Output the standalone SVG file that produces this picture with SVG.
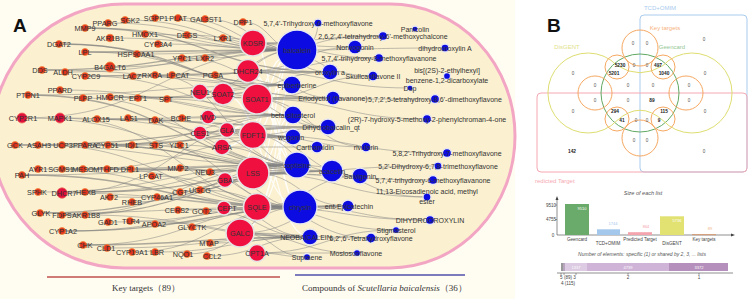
<svg xmlns="http://www.w3.org/2000/svg" width="750" height="299" viewBox="0 0 750 299">
<style>
.e{fill:none;stroke:#868686;stroke-width:.7;opacity:.75}
.et{fill:none;stroke:#777;stroke-width:1.3;opacity:.6}
.ew{fill:none;stroke:#fff;stroke-width:1.3;opacity:.85}
.rs{fill:#e2321c;stroke:#f28a3c;stroke-width:.8}
.rm{fill:#e0103c;stroke:#ee6a5a;stroke-width:.8}
.rb{fill:#f01040;stroke:#e4e4e4;stroke-width:1.6}
.bl{fill:#0c0ce2;stroke:#e8e8f0;stroke-width:1.3}
.lr{font-family:'Liberation Sans',Arial,sans-serif;font-size:7.3px;fill:#333;text-anchor:middle}
.lb{font-family:'Liberation Sans',Arial,sans-serif;font-size:7px;fill:#333;text-anchor:middle}
.vn{font-family:'Liberation Sans',Arial,sans-serif;font-size:4.6px;fill:#555;text-anchor:middle}
.vb{font-family:'Liberation Sans',Arial,sans-serif;font-size:4.8px;fill:#222;font-weight:bold;text-anchor:middle}
.sm{font-family:'Liberation Sans',Arial,sans-serif;font-size:4.6px;fill:#444;text-anchor:middle}
.leg{font-family:'Liberation Serif','Times New Roman',serif;font-size:9px;fill:#333}
</style>
<rect x="0" y="0" width="750" height="299" fill="#fff"/>
<rect x="0" y="0" width="515" height="299" fill="#fffcf2"/>
<path d="M124,4 H390 A125,132 0 0 1 390,268 H124 A132,132 0 0 1 124,4 Z" fill="#fbf0cf" stroke="#f3a6c4" stroke-width="3"/>
<text x="13" y="32" font-family="'Liberation Sans',Arial,sans-serif" font-size="19" font-weight="bold" fill="#111">A</text>

<g id="connectors">
<path class="ew" d="M257,99C280,99 280,165 297,165 M257,99C280,99 280,207 300,207 M253,173C275,173 275,50 297,50 M253,135C275,135 275,50 297,50 M253,43C275,43 275,207 300,207 M248,71C272,71 272,165 297,165 M257,207C277,207 277,85 292,85 M253,173C275,173 275,115 293,115 M240,233C270,233 270,137 293,137 M223,94C260,94 260,207 300,207 M227,130C262,130 262,50 297,50 M253,135C277,135 277,237 310,237 M257,207C280,207 280,115 293,115 M248,71C272,71 272,137 293,137 M222,147C260,147 260,85 292,85 M225,180C262,180 262,50 297,50"/>
<path class="e" d="M85,28C191,28 191,50 297,50 M108,23C203,23 203,50 297,50 M125,20C211,20 211,50 297,50 M155,18C226,18 226,50 297,50 M178,18C237,18 237,50 297,50 M205,19C251,19 251,50 297,50 M243,22C270,22 270,50 297,50 M110,38C203,38 203,50 297,50 M145,34C221,34 221,50 297,50 M187,35C242,35 242,50 297,50 M223,38C260,38 260,50 297,50 M59,44C175,44 175,85 292,85 M158,44C227,44 227,50 297,50 M85,52C188,52 188,85 292,85 M137,54C217,54 217,50 297,50 M182,58C237,58 237,85 292,85 M205,58C251,58 251,50 297,50 M42,70C167,70 167,85 292,85 M65,72C181,72 181,50 297,50 M85,76C189,76 189,115 293,115 M110,67C203,67 203,50 297,50 M133,76C212,76 212,85 292,85 M155,75C226,75 226,165 297,165 M172,75C232,75 232,85 292,85 M215,75C256,75 256,50 297,50"/>
<path class="e" d="M60,90C176,90 176,115 293,115 M28,95C160,95 160,85 292,85 M83,98C190,98 190,165 297,165 M110,97C201,97 201,115 293,115 M138,98C215,98 215,85 292,85 M167,99C230,99 230,115 293,115 M22,118C160,118 160,165 297,165 M22,118C160,118 160,50 297,50 M60,118C176,118 176,137 293,137 M60,118C180,118 180,207 300,207 M97,119C195,119 195,115 293,115 M128,118C212,118 212,165 297,165 M155,120C224,120 224,137 293,137 M182,118C237,118 237,115 293,115 M15,145C156,145 156,165 297,165 M38,145C169,145 169,207 300,207 M62,145C177,145 177,137 293,137 M85,145C191,145 191,165 297,165 M108,145C200,145 200,115 293,115 M132,145C214,145 214,165 297,165 M155,145C227,145 227,207 300,207 M180,145C238,145 238,165 297,165"/>
<path class="e" d="M180,168C240,168 240,207 300,207 M210,172C253,172 253,165 297,165 M22,175C160,175 160,165 297,165 M38,169C169,169 169,207 300,207 M62,169C180,169 180,165 297,165 M83,169C188,169 188,137 293,137 M107,169C204,169 204,207 300,207 M131,169C214,169 214,165 297,165 M152,176C226,176 226,207 300,207 M38,192C168,192 168,165 297,165 M62,193C181,193 181,207 300,207 M62,193C178,193 178,115 293,115 M85,192C191,192 191,165 297,165 M110,197C205,197 205,207 300,207 M132,202C215,202 215,165 297,165 M157,197C229,197 229,207 300,207 M180,192C239,192 239,165 297,165 M200,190C250,190 250,207 300,207"/>
<path class="e" d="M40,213C170,213 170,207 300,207 M62,215C180,215 180,165 297,165 M85,215C198,215 198,237 310,237 M178,210C239,210 239,207 300,207 M208,211C259,211 259,237 310,237 M108,222C204,222 204,207 300,207 M130,221C220,221 220,237 310,237 M155,224C228,224 228,207 300,207 M192,227C246,227 246,207 300,207 M62,231C181,231 181,207 300,207 M210,243C260,243 260,237 310,237 M83,245C192,245 192,207 300,207 M107,248C209,248 209,237 310,237 M132,252C216,252 216,207 300,207 M155,252C233,252 233,237 310,237 M187,254C244,254 244,207 300,207 M207,256C259,256 259,237 310,237"/>
<path class="et" d="M85,28C208,28 208,72 330,72 M59,44C196,44 196,98 333,98 M28,95C180,95 180,171 332,171 M85,76C208,76 208,72 330,72 M110,97C222,97 222,98 333,98 M85,145C208,145 208,171 332,171 M108,145C218,145 218,127 328,127 M62,169C197,169 197,171 332,171 M15,145C171,145 171,127 328,127 M62,215C197,215 197,171 332,171 M62,231C205,231 205,206 348,206 M85,192C208,192 208,171 332,171 M85,52C191,52 191,50 297,50 M97,119C212,119 212,127 328,127 M22,175C161,175 161,207 300,207 M40,213C186,213 186,171 332,171 M83,245C196,245 196,237 310,237 M42,70C170,70 170,50 297,50"/>
<path class="e" d="M253,43C304,43 304,47 355,47 M253,43C292,43 292,72 330,72 M253,43C318,43 318,36 383,36 M253,43C316,43 316,58 379,58 M253,43C313,43 313,76 373,76 M248,71C289,71 289,72 330,72 M248,71C290,71 290,98 333,98 M248,71C313,71 313,58 379,58 M248,71C329,71 329,88 410,88 M248,71C301,71 301,47 355,47 M257,99C295,99 295,98 333,98 M257,99C292,99 292,127 328,127 M257,99C342,99 342,119 427,119 M257,99C346,99 346,99 435,99 M257,99C315,99 315,76 373,76 M257,99C311,99 311,147 366,147 M223,94C257,94 257,85 292,85 M223,94C276,94 276,72 330,72 M223,94C275,94 275,127 328,127"/>
<path class="e" d="M253,135C290,135 290,127 328,127 M253,135C292,135 292,171 332,171 M253,135C309,135 309,147 366,147 M253,135C350,135 350,153 447,153 M253,135C306,135 306,176 360,176 M253,173C292,173 292,171 332,171 M253,173C306,173 306,176 360,176 M253,173C343,173 343,180 433,180 M253,173C345,173 345,166 438,166 M253,173C300,173 300,206 348,206 M253,173C340,173 340,197 427,197 M257,207C302,207 302,206 348,206 M257,207C343,207 343,220 430,220 M257,207C326,207 326,230 396,230 M257,207C314,207 314,238 371,238 M257,207C308,207 308,176 360,176 M240,233C275,233 275,237 310,237 M240,233C298,233 298,253 357,253 M240,233C273,233 273,257 307,257 M240,233C305,233 305,238 371,238 M240,233C294,233 294,206 348,206 M257,253C282,253 282,257 307,257 M257,253C307,253 307,253 357,253 M257,253C326,253 326,230 396,230"/>
<path class="e" d="M200,92C248,92 248,50 297,50 M200,92C246,92 246,85 292,85 M208,117C250,117 250,115 293,115 M208,117C250,117 250,137 293,137 M227,130C262,130 262,165 297,165 M227,130C260,130 260,137 293,137 M200,133C248,133 248,165 297,165 M222,147C260,147 260,165 297,165 M222,147C270,147 270,147 317,147 M225,180C262,180 262,207 300,207 M225,180C261,180 261,165 297,165 M223,208C262,208 262,207 300,207 M223,208C266,208 266,237 310,237 M297,50C318,50 318,23 318,23 M297,50C310,50 310,36 383,36 M297,165C360,165 360,197 427,197 M300,207C360,207 360,220 430,220 M297,50C360,50 360,48 445,48"/>
</g>

<g id="n-MMP9"><circle class="rs" cx="85" cy="28" r="3.5"/><text class="lr" x="85" y="30.7">MMP9</text></g>
<g id="n-PPARG"><circle class="rs" cx="108" cy="23" r="3.5"/><text class="lr" x="105" y="25.7">PPARG</text></g>
<g id="n-SGK2"><circle class="rs" cx="125" cy="20" r="3.5"/><text class="lr" x="130" y="22.7">SGK2</text></g>
<g id="n-SGPP1"><circle class="rs" cx="155" cy="18" r="3.5"/><text class="lr" x="156" y="20.7">SGPP1</text></g>
<g id="n-PLAT"><circle class="rs" cx="178" cy="18" r="3.5"/><text class="lr" x="178" y="20.7">PLAT</text></g>
<g id="n-GAL3ST1"><circle class="rs" cx="205" cy="19" r="3.5"/><text class="lr" x="206" y="21.7">GAL3ST1</text></g>
<g id="n-DPP1"><circle class="rs" cx="243" cy="22" r="3.5"/><text class="lr" x="243" y="24.7">DPP1</text></g>
<g id="n-AKR1B1"><circle class="rs" cx="110" cy="38" r="3.8"/><text class="lr" x="110" y="40.7">AKR1B1</text></g>
<g id="n-HMOX1"><circle class="rs" cx="145" cy="34" r="3.5"/><text class="lr" x="145" y="36.7">HMOX1</text></g>
<g id="n-DEGS"><circle class="rs" cx="187" cy="35" r="3.5"/><text class="lr" x="187" y="37.7">DEGS</text></g>
<g id="n-LXR1"><circle class="rs" cx="223" cy="38" r="3.5"/><text class="lr" x="223" y="40.7">LXR1</text></g>
<g id="n-DGAT2"><circle class="rs" cx="59" cy="44" r="3.5"/><text class="lr" x="59" y="46.7">DGAT2</text></g>
<g id="n-CYP3A4"><circle class="rs" cx="158" cy="44" r="3.5"/><text class="lr" x="158" y="46.7">CYP3A4</text></g>
<g id="n-LPL"><circle class="rs" cx="85" cy="52" r="3.5"/><text class="lr" x="85" y="54.7">LPL</text></g>
<g id="n-HSP90AA1"><circle class="rs" cx="137" cy="54" r="3.5"/><text class="lr" x="136" y="56.7">HSP90AA1</text></g>
<g id="n-YPC1"><circle class="rs" cx="182" cy="58" r="3.5"/><text class="lr" x="182" y="60.7">YPC1</text></g>
<g id="n-LXR2"><circle class="rs" cx="205" cy="58" r="3.5"/><text class="lr" x="205" y="60.7">LXR2</text></g>
<g id="n-DDS"><circle class="rs" cx="42" cy="70" r="3.5"/><text class="lr" x="40" y="72.7">DDS</text></g>
<g id="n-ALDH"><circle class="rs" cx="65" cy="72" r="3.5"/><text class="lr" x="63" y="74.7">ALDH</text></g>
<g id="n-CYP2C9"><circle class="rs" cx="85" cy="76" r="3.5"/><text class="lr" x="86" y="78.7">CYP2C9</text></g>
<g id="n-B4GALT6"><circle class="rs" cx="110" cy="67" r="5"/><text class="lr" x="110" y="69.7">B4GALT6</text></g>
<g id="n-LACZ"><circle class="rs" cx="133" cy="76" r="3.5"/><text class="lr" x="132" y="78.7">LACZ</text></g>
<g id="n-RXRA"><circle class="rs" cx="155" cy="75" r="3.5"/><text class="lr" x="152" y="77.7">RXRA</text></g>
<g id="n-LPCAT"><circle class="rs" cx="172" cy="75" r="3.5"/><text class="lr" x="178" y="77.7">LPCAT</text></g>
<g id="n-PGSA"><circle class="rs" cx="215" cy="75" r="3.5"/><text class="lr" x="213" y="77.7">PGSA</text></g>
<g id="n-PPARD"><circle class="rs" cx="60" cy="90" r="3.5"/><text class="lr" x="60" y="92.7">PPARD</text></g>
<g id="n-PTPN1"><circle class="rs" cx="28" cy="95" r="3.5"/><text class="lr" x="28" y="97.7">PTPN1</text></g>
<g id="n-PLPP"><circle class="rs" cx="83" cy="98" r="3.5"/><text class="lr" x="83" y="100.7">PLPP</text></g>
<g id="n-HMGCR"><circle class="rs" cx="110" cy="97" r="3.5"/><text class="lr" x="110" y="99.7">HMGCR</text></g>
<g id="n-EPT1"><circle class="rs" cx="138" cy="98" r="3.5"/><text class="lr" x="138" y="100.7">EPT1</text></g>
<g id="n-SPT"><circle class="rs" cx="167" cy="99" r="3.5"/><text class="lr" x="166" y="101.7">SPT</text></g>
<g id="n-CYP2R1"><circle class="rm" cx="22" cy="118" r="5"/><text class="lr" x="23" y="120.7">CYP2R1</text></g>
<g id="n-MAPK1"><circle class="rm" cx="60" cy="118" r="5"/><text class="lr" x="60" y="120.7">MAPK1</text></g>
<g id="n-ALOX15"><circle class="rs" cx="97" cy="119" r="3.5"/><text class="lr" x="96" y="121.7">ALOX15</text></g>
<g id="n-LAS1"><circle class="rs" cx="128" cy="118" r="3.5"/><text class="lr" x="129" y="120.7">LAS1</text></g>
<g id="n-DAK"><circle class="rs" cx="155" cy="120" r="3.5"/><text class="lr" x="156" y="122.7">DAK</text></g>
<g id="n-BCHE"><circle class="rs" cx="182" cy="118" r="3.5"/><text class="lr" x="181" y="120.7">BCHE</text></g>
<g id="n-GCK"><circle class="rs" cx="15" cy="145" r="3.5"/><text class="lr" x="15" y="147.7">GCK</text></g>
<g id="n-ASAH3"><circle class="rs" cx="38" cy="145" r="3.5"/><text class="lr" x="39" y="147.7">ASAH3</text></g>
<g id="n-UCP3"><circle class="rs" cx="62" cy="145" r="3.5"/><text class="lr" x="63" y="147.7">UCP3</text></g>
<g id="n-PPARA"><circle class="rs" cx="85" cy="145" r="3.5"/><text class="lr" x="85" y="147.7">PPARA</text></g>
<g id="n-CYP51"><circle class="rs" cx="108" cy="145" r="3.5"/><text class="lr" x="107" y="147.7">CYP51</text></g>
<g id="n-IDI1"><circle class="rs" cx="132" cy="145" r="3.5"/><text class="lr" x="132" y="147.7">IDI1</text></g>
<g id="n-STS"><circle class="rs" cx="155" cy="145" r="3.5"/><text class="lr" x="156" y="147.7">STS</text></g>
<g id="n-YDC1"><circle class="rs" cx="180" cy="145" r="3.5"/><text class="lr" x="179" y="147.7">YDC1</text></g>
<g id="n-MMP2"><circle class="rs" cx="180" cy="168" r="3.5"/><text class="lr" x="178" y="170.7">MMP2</text></g>
<g id="n-NEU3"><circle class="rs" cx="210" cy="172" r="3.5"/><text class="lr" x="205" y="174.7">NEU3</text></g>
<g id="n-PAH"><circle class="rs" cx="22" cy="175" r="3.5"/><text class="lr" x="22" y="177.7">PAH</text></g>
<g id="n-AYR1"><circle class="rs" cx="38" cy="169" r="3.5"/><text class="lr" x="38" y="171.7">AYR1</text></g>
<g id="n-SGMS1"><circle class="rs" cx="62" cy="169" r="3.5"/><text class="lr" x="61" y="171.7">SGMS1</text></g>
<g id="n-MESO"><circle class="rs" cx="83" cy="169" r="3.5"/><text class="lr" x="83" y="171.7">MESO</text></g>
<g id="n-MTHFD"><circle class="rs" cx="107" cy="169" r="3.5"/><text class="lr" x="106" y="171.7">MTHFD</text></g>
<g id="n-DPL1"><circle class="rs" cx="131" cy="169" r="3.5"/><text class="lr" x="130" y="171.7">DPL1</text></g>
<g id="n-LPGAT"><circle class="rs" cx="152" cy="176" r="3.5"/><text class="lr" x="151" y="178.7">LPGAT</text></g>
<g id="n-SPHK"><circle class="rs" cx="38" cy="192" r="3.5"/><text class="lr" x="37" y="194.7">SPHK</text></g>
<g id="n-DHCR7"><circle class="rm" cx="62" cy="193" r="5.2"/><text class="lr" x="64" y="195.7">DHCR7</text></g>
<g id="n-HEXB"><circle class="rs" cx="85" cy="192" r="3.5"/><text class="lr" x="86" y="194.7">HEXB</text></g>
<g id="n-AKT2"><circle class="rs" cx="110" cy="197" r="3.5"/><text class="lr" x="109" y="199.7">AKT2</text></g>
<g id="n-RHEB"><circle class="rs" cx="132" cy="202" r="3.5"/><text class="lr" x="132" y="204.7">RHEB</text></g>
<g id="n-CYP46A1"><circle class="rs" cx="157" cy="197" r="3.5"/><text class="lr" x="157" y="199.7">CYP46A1</text></g>
<g id="n-CGT"><circle class="rs" cx="180" cy="192" r="3.5"/><text class="lr" x="180" y="194.7">CGT</text></g>
<g id="n-UGCG"><circle class="rs" cx="200" cy="190" r="3.5"/><text class="lr" x="200" y="192.7">UGCG</text></g>
<g id="n-GLYK"><circle class="rs" cx="40" cy="213" r="3.5"/><text class="lr" x="41" y="215.7">GLYK</text></g>
<g id="n-FDPS"><circle class="rs" cx="62" cy="215" r="3.5"/><text class="lr" x="62" y="217.7">FDPS</text></g>
<g id="n-AKR1B8"><circle class="rs" cx="85" cy="215" r="3.5"/><text class="lr" x="86" y="217.7">AKR1B8</text></g>
<g id="n-CERS2"><circle class="rs" cx="178" cy="210" r="3.5"/><text class="lr" x="177" y="212.7">CERS2</text></g>
<g id="n-GOT2"><circle class="rs" cx="206" cy="211" r="3.5"/><text class="lr" x="202" y="213.7">GOT2</text></g>
<g id="n-GAD1"><circle class="rs" cx="108" cy="222" r="3.5"/><text class="lr" x="108" y="224.7">GAD1</text></g>
<g id="n-TLR4"><circle class="rs" cx="130" cy="221" r="3.5"/><text class="lr" x="131" y="223.7">TLR4</text></g>
<g id="n-APOA2"><circle class="rs" cx="155" cy="224" r="3.5"/><text class="lr" x="154" y="226.7">APOA2</text></g>
<g id="n-GLYCTK"><circle class="rs" cx="192" cy="227" r="3.5"/><text class="lr" x="192" y="229.7">GLYCTK</text></g>
<g id="n-CYP1A2"><circle class="rs" cx="62" cy="231" r="3.5"/><text class="lr" x="63" y="233.7">CYP1A2</text></g>
<g id="n-MTAP"><circle class="rs" cx="210" cy="243" r="3.5"/><text class="lr" x="209" y="245.7">MTAP</text></g>
<g id="n-CHK"><circle class="rs" cx="83" cy="245" r="3.5"/><text class="lr" x="85" y="247.7">CHK</text></g>
<g id="n-CLD1"><circle class="rs" cx="107" cy="248" r="3.5"/><text class="lr" x="106" y="250.7">CLD1</text></g>
<g id="n-CYP19A1"><circle class="rs" cx="132" cy="252" r="3.5"/><text class="lr" x="132" y="254.7">CYP19A1</text></g>
<g id="n-LBR"><circle class="rs" cx="155" cy="252" r="3.5"/><text class="lr" x="157" y="254.7">LBR</text></g>
<g id="n-NQO1"><circle class="rs" cx="187" cy="254" r="3.5"/><text class="lr" x="183" y="256.7">NQO1</text></g>
<g id="n-CCL2"><circle class="rs" cx="207" cy="256" r="3.5"/><text class="lr" x="212" y="258.7">CCL2</text></g>

<g id="n-KDSR"><circle class="rb" cx="253" cy="43" r="13"/><text class="lr" x="253" y="45.7">KDSR</text></g>
<g id="n-DHCR24"><circle class="rb" cx="248" cy="71" r="11.5"/><text class="lr" x="248" y="73.7">DHCR24</text></g>
<g id="n-NEU1"><circle class="rb" cx="200" cy="92" r="8"/><text class="lr" x="200" y="94.7">NEU1</text></g>
<g id="n-SOAT2"><circle class="rb" cx="223" cy="94" r="11"/><text class="lr" x="223" y="96.7">SOAT2</text></g>
<g id="n-SOAT1"><circle class="rb" cx="257" cy="99" r="15"/><text class="lr" x="257" y="101.7">SOAT1</text></g>
<g id="n-MVD"><circle class="rb" cx="208" cy="117" r="7"/><text class="lr" x="208" y="119.7">MVD</text></g>
<g id="n-CES1"><circle class="rb" cx="200" cy="133" r="7"/><text class="lr" x="200" y="135.7">CES1</text></g>
<g id="n-GLA"><circle class="rb" cx="227" cy="130" r="7.5"/><text class="lr" x="227" y="132.7">GLA</text></g>
<g id="n-FDFT1"><circle class="rb" cx="253" cy="135" r="13.5"/><text class="lr" x="253" y="137.7">FDFT1</text></g>
<g id="n-ARSA"><circle class="rb" cx="222" cy="147" r="8"/><text class="lr" x="222" y="149.7">ARSA</text></g>
<g id="n-LSS"><circle class="rb" cx="253" cy="173" r="16"/><text class="lr" x="253" y="175.7">LSS</text></g>
<g id="n-GBA"><circle class="rb" cx="225" cy="180" r="7.5"/><text class="lr" x="225" y="182.7">GBA</text></g>
<g id="n-SQLE"><circle class="rb" cx="257" cy="207" r="13.5"/><text class="lr" x="257" y="209.7">SQLE</text></g>
<g id="n-CEPT"><circle class="rb" cx="224" cy="208" r="7"/><text class="lr" x="227" y="210.7">CEPT</text></g>
<g id="n-GALC"><circle class="rb" cx="240" cy="233" r="14"/><text class="lr" x="240" y="235.7">GALC</text></g>
<g id="n-CPT1A"><circle class="rb" cx="257" cy="253" r="8.5"/><text class="lr" x="257" y="255.7">CPT1A</text></g>

<g id="c-baicalein"><circle class="bl" cx="297" cy="50" r="20"/><text class="lb" x="297" y="52.5">baicalein</text></g>
<g id="c-1"><circle class="bl" cx="318" cy="23" r="4"/><text class="lb" x="318" y="25.5">5,7,4'-Trihydroxy-6-methoxyflavone</text></g>
<g id="c-2"><circle class="bl" cx="383" cy="36" r="4.5"/><text class="lb" x="383" y="38.5">2,6,2',4'-tetrahydroxy-6'-methoxychalcone</text></g>
<g id="c-panicolin"><circle class="bl" cx="415" cy="29" r="3"/><text class="lb" x="415" y="31.5">Panicolin</text></g>
<g id="c-norwogonin"><circle class="bl" cx="355" cy="47" r="7"/><text class="lb" x="355" y="49.5">Norwogonin</text></g>
<g id="c-dihydrooroxylinA"><circle class="bl" cx="445" cy="48" r="4"/><text class="lb" x="445" y="50.5">dihydrooroxylin A</text></g>
<g id="c-3"><circle class="bl" cx="379" cy="58" r="4.5"/><text class="lb" x="379" y="60.5">5,7,4'-trihydroxy-8-methoxyflavanone</text></g>
<g id="c-oroxylina"><circle class="bl" cx="330" cy="72" r="8"/><text class="lb" x="330" y="74.5">oroxylin a</text></g>
<g id="c-skullcap"><circle class="bl" cx="373" cy="76" r="5"/><text class="lb" x="373" y="78.5">Skullcapflavone II</text></g>
<g id="c-bis"><circle class="bl" cx="447" cy="76" r="3.5"/><text class="lb" x="447" y="73">bis[(2S)-2-ethylhexyl]</text><text class="lb" x="447" y="83">benzene-1,2-dicarboxylate</text></g>
<g id="c-epiberberine"><circle class="bl" cx="292" cy="85" r="9"/><text class="lb" x="297" y="87.5">epiberberine</text></g>
<g id="c-dop"><circle class="bl" cx="410" cy="88" r="3"/><text class="lb" x="410" y="90.5">Dop</text></g>
<g id="c-eriodyctiol"><circle class="bl" cx="333" cy="98" r="7"/><text class="lb" x="333" y="100.5">Eriodyctiol (flavanone)</text></g>
<g id="c-4"><circle class="bl" cx="435" cy="99" r="4.5"/><text class="lb" x="435" y="101.5">5,7,2',5-tetrahydroxy-8,6'-dimethoxyflavone</text></g>
<g id="c-sitosterol"><circle class="bl" cx="293" cy="115" r="9"/><text class="lb" x="293" y="117.5">beta-sitosterol</text></g>
<g id="c-5"><circle class="bl" cx="427" cy="119" r="4.5"/><text class="lb" x="427" y="121.5">(2R)-7-hydroxy-5-methoxy-2-phenylchroman-4-one</text></g>
<g id="c-dihydrobaicalin"><circle class="bl" cx="328" cy="127" r="8"/><text class="lb" x="331" y="129.5">Dihydrobaicalin_qt</text></g>
<g id="c-wogonin"><circle class="bl" cx="293" cy="137" r="8"/><text class="lb" x="291" y="139.5">wogonin</text></g>
<g id="c-carthamidin"><circle class="bl" cx="317" cy="147" r="6"/><text class="lb" x="315" y="149.5">Carthamidin</text></g>
<g id="c-rivularin"><circle class="bl" cx="366" cy="147" r="5"/><text class="lb" x="366" y="149.5">rivularin</text></g>
<g id="c-6"><circle class="bl" cx="447" cy="153" r="4.5"/><text class="lb" x="447" y="155.5">5,8,2'-Trihydroxy-7-methoxyflavone</text></g>
<g id="c-coptisine"><circle class="bl" cx="297" cy="165" r="13"/><text class="lb" x="297" y="167.5">coptisine</text></g>
<g id="c-7"><circle class="bl" cx="438" cy="166" r="4"/><text class="lb" x="438" y="168.5">5,2'-Dihydroxy-6,7,8-trimethoxyflavone</text></g>
<g id="c-acacetin"><circle class="bl" cx="332" cy="171" r="11"/><text class="lb" x="332" y="173.5">acacetin</text></g>
<g id="c-salvigenin"><circle class="bl" cx="360" cy="176" r="8"/><text class="lb" x="360" y="178.5">Salvigenin</text></g>
<g id="c-8"><circle class="bl" cx="433" cy="180" r="4.5"/><text class="lb" x="433" y="182.5">5,7,4'-trihydroxy-6-methoxyflavanone</text></g>
<g id="c-eicosa"><circle class="bl" cx="427" cy="197" r="4"/><text class="lb" x="427" y="194">11,13-Eicosadienoic acid, methyl</text><text class="lb" x="427" y="204">ester</text></g>
<g id="c-chrysin"><circle class="bl" cx="300" cy="207" r="17"/><text class="lb" x="300" y="209.5">chrysin</text></g>
<g id="c-epicatechin"><circle class="bl" cx="348" cy="206" r="6"/><text class="lb" x="349" y="208.5">ent-Epicatechin</text></g>
<g id="c-dihydrooroxylin"><circle class="bl" cx="430" cy="220" r="4.5"/><text class="lb" x="430" y="222.5">DIHYDROOROXYLIN</text></g>
<g id="c-stigmasterol"><circle class="bl" cx="396" cy="230" r="3.5"/><text class="lb" x="396" y="232.5">Stigmasterol</text></g>
<g id="c-neobaicalein"><circle class="bl" cx="310" cy="237" r="8"/><text class="lb" x="306" y="239.5">NEOBAICALEIN</text></g>
<g id="c-9"><circle class="bl" cx="371" cy="238" r="5"/><text class="lb" x="371" y="240.5">5,2',6'-Tetrahydroxyflavone</text></g>
<g id="c-moslosooflavone"><circle class="bl" cx="357" cy="253" r="3.5"/><text class="lb" x="356" y="255.5">Moslosooflavone</text></g>
<g id="c-supraene"><circle class="bl" cx="307" cy="257" r="3.5"/><text class="lb" x="307" y="259.5">Supraene</text></g>

<g id="legend">
<line x1="47" y1="277" x2="280" y2="277" stroke="#c0504d" stroke-width="1.3"/>
<line x1="295" y1="275" x2="465" y2="275" stroke="#5050a8" stroke-width="1.3"/>
<text class="leg" x="112" y="291">Key targets（89）</text>
<text class="leg" x="302" y="291">Compounds of <tspan font-style="italic">Scutellaria baicalensis</tspan>（36）</text>
</g>

<text x="547" y="32" font-family="'Liberation Sans',Arial,sans-serif" font-size="19" font-weight="bold" fill="#111">B</text>

<g id="venn" fill="none" stroke-width="1">
<rect x="640" y="15" width="107" height="157" rx="4" stroke="#a9cbee"/>
<rect x="537" y="93" width="210" height="79" rx="4" stroke="#f4a8b2"/>
<circle cx="640" cy="93" r="39" stroke="#62a862"/>
<path d="M617,65.5 A40,40 0 1 0 617,120.5 Q640,100 663,120.5 A40,40 0 1 0 663,65.5 Q640,80 617,65.5 Z" stroke="#dede72"/>
<g stroke="#f6a862">
<circle cx="640" cy="48" r="18"/><circle cx="640" cy="138" r="18"/>
<circle cx="595" cy="93" r="17"/><circle cx="686" cy="93" r="17"/>
<circle cx="617" cy="67" r="12"/><circle cx="663" cy="67" r="12"/>
<circle cx="617" cy="119" r="12"/><circle cx="663" cy="119" r="12"/>
</g>
</g>
<g id="venn-labels" font-family="'Liberation Sans',Arial,sans-serif" font-size="6">
<text x="660" y="10" fill="#a9cbee" text-anchor="middle">TCD+OMIM</text>
<text x="665" y="30" fill="#f6b27c" text-anchor="middle">Key targets</text>
<text x="672" y="49" fill="#94c894" text-anchor="middle">Geencard</text>
<text x="567" y="49" fill="#e2e288" text-anchor="middle">DisGENT</text>
<text x="535" y="183" fill="#f5aab4">redicted Target</text>
</g>
<g id="venn-numbers">
<text class="vn" x="633" y="44.5">0</text><text class="vn" x="647" y="44.5">0</text>
<text class="vn" x="704" y="40.5">0</text>
<text class="vb" x="620" y="66.5">5230</text><text class="vn" x="634" y="66.5">0</text><text class="vn" x="647" y="66.5">0</text><text class="vb" x="658" y="66.5">497</text>
<text class="vb" x="614" y="74.5">5201</text><text class="vb" x="664" y="74.5">1040</text>
<text class="vn" x="573" y="74.5">0</text><text class="vn" x="705" y="74.5">0</text>
<text class="vn" x="595" y="86.5">0</text><text class="vn" x="628" y="86.5">0</text><text class="vn" x="653" y="86.5">0</text><text class="vn" x="689" y="86.5">0</text>
<text class="vn" x="595" y="101.5">0</text><text class="vn" x="628" y="101.5">0</text><text class="vb" x="652" y="101.5">89</text><text class="vn" x="689" y="101.5">0</text>
<text class="vn" x="573" y="112.5">0</text><text class="vn" x="705" y="112.5">0</text>
<text class="vb" x="615" y="112.5">294</text><text class="vb" x="664" y="112.5">115</text>
<text class="vb" x="622" y="121.5">41</text><text class="vn" x="636" y="121.5">0</text><text class="vn" x="647" y="121.5">0</text><text class="vb" x="659" y="121.5">9</text>
<text class="vn" x="634" y="141.5">0</text><text class="vn" x="647" y="141.5">0</text>
<text class="vb" x="572" y="152.5">142</text><text class="vn" x="704" y="152.5">0</text>
</g>

<g id="bar-chart">
<text x="643" y="195" font-family="'Liberation Sans',Arial,sans-serif" font-size="5.5" font-style="italic" fill="#555" text-anchor="middle">Size of each list</text>
<line x1="557" y1="235" x2="557" y2="198" stroke="#444" stroke-width=".6"/>
<path d="M555.5,200 L557,196 L558.5,200 Z" fill="#444"/>
<line x1="557" y1="235" x2="733" y2="235" stroke="#444" stroke-width=".6"/>
<path d="M731,233.5 L735,235 L731,236.5 Z" fill="#444"/>
<g class="sm" font-size="4"><text x="551" y="206.5">9510</text><text x="551" y="220.5">4755</text><text x="553" y="236.5">0</text></g>
<line x1="555" y1="205" x2="557" y2="205" stroke="#444" stroke-width=".5"/>
<line x1="555" y1="219.5" x2="557" y2="219.5" stroke="#444" stroke-width=".5"/>
<rect x="565" y="204" width="24" height="31" fill="#6aaa6a"/>
<rect x="597" y="229.3" width="23" height="5.7" fill="#a4c8ec"/>
<rect x="628" y="232.2" width="24" height="2.8" fill="#f4a4ac"/>
<rect x="660" y="216.3" width="24" height="18.7" fill="#e2e272"/>
<rect x="692" y="234.5" width="24" height=".6" fill="#e07a3a"/>
<g font-family="'Liberation Sans',Arial,sans-serif" font-size="4" text-anchor="middle">
<text x="582" y="210" fill="#fff">9510</text>
<text x="613" y="225" fill="#a4c8ec">1744</text>
<text x="646" y="228" fill="#f4a4ac">864</text>
<text x="677" y="222" fill="#fff">5736</text>
<text x="710" y="230" fill="#f4b488">89</text>
</g>
<g class="sm"><text x="577" y="241">Geencard</text><text x="608" y="245">TCD+OMIM</text><text x="640" y="241">Predicted Target</text><text x="672" y="245">DisGENT</text><text x="704" y="241">Key targets</text></g>
<text x="642" y="256" font-family="'Liberation Sans',Arial,sans-serif" font-size="5" font-style="italic" fill="#555" text-anchor="middle">Number of elements: specific (1) or shared by 2, 3, ... lists</text>
<rect x="561" y="263" width="2" height="8" fill="#999"/>
<rect x="563" y="263" width="2" height="8" fill="#b9a4c0"/>
<rect x="565" y="263" width="22" height="8" fill="#dccbe2"/>
<rect x="587" y="263" width="82" height="8" fill="#d0b4d8"/>
<rect x="669" y="263" width="59" height="8" fill="#b690bc"/>
<g font-family="'Liberation Sans',Arial,sans-serif" font-size="4" fill="#fff" text-anchor="middle"><text x="576" y="268.5">1337</text><text x="628" y="268.5">4739</text><text x="699" y="268.5">3372</text></g>
<line x1="557" y1="273" x2="733" y2="273" stroke="#444" stroke-width=".6"/>
<g stroke="#444" stroke-width=".5"><line x1="561" y1="273" x2="561" y2="275"/><line x1="564" y1="273" x2="564" y2="275"/><line x1="576" y1="273" x2="576" y2="275"/><line x1="628" y1="273" x2="628" y2="275"/><line x1="699" y1="273" x2="699" y2="275"/></g>
<g class="sm" font-size="4"><text x="568" y="279">5 (89)  3</text><text x="568" y="285">4 (115)</text><text x="628" y="279">2</text><text x="699" y="279">1</text></g>
</g>
</svg>
